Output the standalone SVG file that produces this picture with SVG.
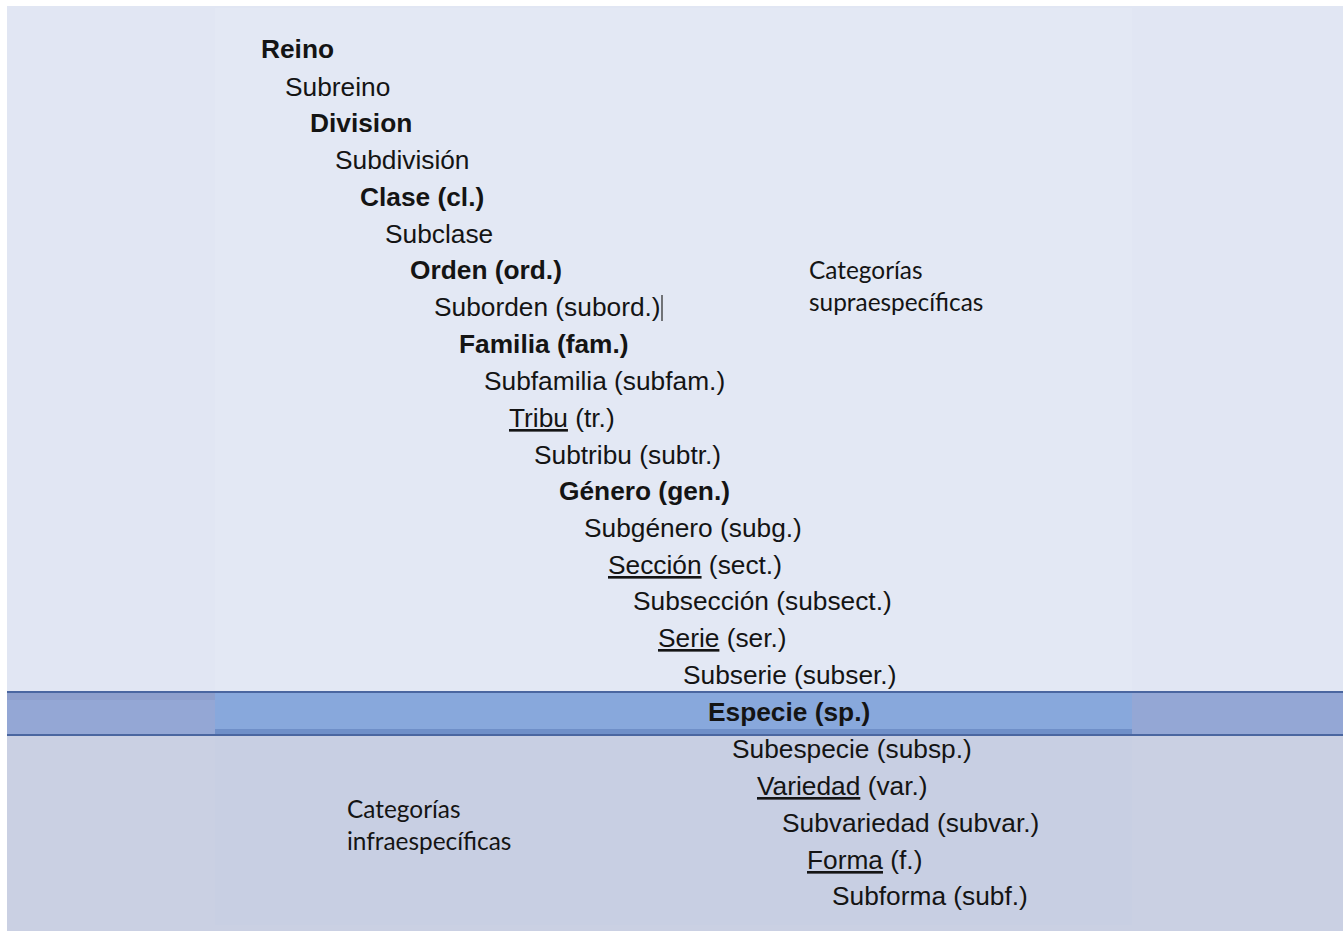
<svg xmlns="http://www.w3.org/2000/svg" width="1343" height="931" viewBox="0 0 1343 931">
<style>
.t{font-family:"Liberation Sans",Arial,sans-serif;font-size:26.3px;fill:#141414}
.b{font-weight:bold}
.u{text-decoration:underline}
.c{font-family:Lato,"Open Sans",sans-serif;font-size:24.4px;fill:#141414}
</style>
<rect x="0" y="0" width="1343" height="931" fill="#ffffff"/>
<g id="background">
<rect x="7" y="6" width="1336" height="686" fill="#E1E6F3"/>
<rect x="215" y="8" width="917" height="684" fill="#E3E8F4"/>
<rect x="7" y="692" width="1336" height="43" fill="#94A7D5"/>
<rect x="7" y="692" width="208" height="8" fill="#8E9FCC"/>
<rect x="215" y="692" width="917" height="43" fill="#88A8DC"/>
<rect x="215" y="729" width="917" height="5" fill="#6F8FC8"/>
<rect x="7" y="735" width="1336" height="196" fill="#CAD0E3"/>
<rect x="215" y="735" width="917" height="190" fill="#C8CFE3"/>
<line x1="7" y1="692" x2="1343" y2="692" stroke="#4A66A0" stroke-width="2"/>
<line x1="7" y1="735" x2="1343" y2="735" stroke="#4A66A0" stroke-width="2"/>
</g>
<g id="connectors"></g>
<g id="n-reino"><text class="t b" x="261" y="58">Reino</text></g>
<g id="n-subreino"><text class="t" x="285" y="96">Subreino</text></g>
<g id="n-division"><text class="t b" x="310" y="132">Division</text></g>
<g id="n-subdivision"><text class="t" x="335" y="169">Subdivisión</text></g>
<g id="n-clase"><text class="t b" x="360" y="206">Clase (cl.)</text></g>
<g id="n-subclase"><text class="t" x="385" y="243">Subclase</text></g>
<g id="n-orden"><text class="t b" x="410" y="279">Orden (ord.)</text></g>
<g id="n-suborden"><text class="t" x="434" y="316">Suborden (subord.)</text><line x1="662" y1="295" x2="662" y2="321" stroke="#333" stroke-width="1.3"/></g>
<g id="n-familia"><text class="t b" x="459" y="353">Familia (fam.)</text></g>
<g id="n-subfamilia"><text class="t" x="484" y="390">Subfamilia (subfam.)</text></g>
<g id="n-tribu"><text class="t" x="509" y="427"><tspan class="u">Tribu</tspan> (tr.)</text></g>
<g id="n-subtribu"><text class="t" x="534" y="464">Subtribu (subtr.)</text></g>
<g id="n-genero"><text class="t b" x="559" y="500">Género (gen.)</text></g>
<g id="n-subgenero"><text class="t" x="584" y="537">Subgénero (subg.)</text></g>
<g id="n-seccion"><text class="t" x="608" y="574"><tspan class="u">Sección</tspan> (sect.)</text></g>
<g id="n-subseccion"><text class="t" x="633" y="610">Subsección (subsect.)</text></g>
<g id="n-serie"><text class="t" x="658" y="647"><tspan class="u">Serie</tspan> (ser.)</text></g>
<g id="n-subserie"><text class="t" x="683" y="684">Subserie (subser.)</text></g>
<g id="n-especie"><text class="t b" x="708" y="721">Especie (sp.)</text></g>
<g id="n-subespecie"><text class="t" x="732" y="758">Subespecie (subsp.)</text></g>
<g id="n-variedad"><text class="t" x="757" y="795"><tspan class="u">Variedad</tspan> (var.)</text></g>
<g id="n-subvariedad"><text class="t" x="782" y="832">Subvariedad (subvar.)</text></g>
<g id="n-forma"><text class="t" x="807" y="869"><tspan class="u">Forma</tspan> (f.)</text></g>
<g id="n-subforma"><text class="t" x="832" y="905">Subforma (subf.)</text></g>
<g id="label-supra"><text class="c" x="809" y="279">Categorías</text><text class="c" x="809" y="311">supraespecíficas</text></g>
<g id="label-infra"><text class="c" x="347" y="818">Categorías</text><text class="c" x="347" y="850">infraespecíficas</text></g>
</svg>
